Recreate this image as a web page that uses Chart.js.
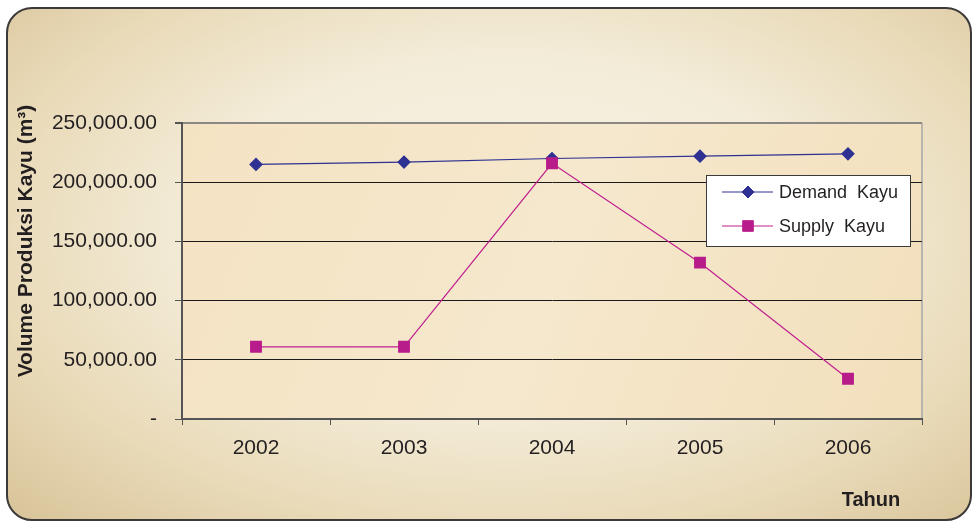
<!DOCTYPE html>
<html>
<head>
<meta charset="utf-8">
<script src="https://cdn.jsdelivr.net/npm/chart.js@4.4.0/dist/chart.umd.min.js"></script>
<style>
  html, body { margin: 0; padding: 0; background: #fff; }
  #frame {
    position: absolute; left: 6px; top: 7px; width: 962px; height: 510px;
    border: 2px solid #3c3a38; border-radius: 26px;
    background: radial-gradient(ellipse 72% 78% at 52% 44%, #f7f3e6 0%, #f3ecd8 45%, #e9dab8 75%, #d9c59b 100%);
  }
  #c { position: absolute; left: 0; top: 0; }
</style>
</head>
<body>
<div id="frame"></div>
<canvas id="c" width="974" height="522"></canvas>
<script>
// data
const years = ['2002', '2003', '2004', '2005', '2006'];
const demandKayu = [215000, 217000, 220000, 222000, 224000];
const supplyKayu = [61000, 61000, 216000, 132000, 34000];
const yTicks = [0, 50000, 100000, 150000, 200000, 250000];
const seriesNames = ['Demand  Kayu', 'Supply  Kayu'];
const yTitle = 'Volume Produksi Kayu (m\u00B3)';
const xTitle = 'Tahun';

const textColor = '#231f20';

function fmt(v) {
  if (v === 0) return '-';
  return v.toFixed(2).replace(/\B(?=(\d{3})+(?!\d))/g, ',');
}

// parchment fill behind the plot + light right border
const plotBg = {
  id: 'plotBg',
  beforeDraw(chart) {
    const { ctx, chartArea: a } = chart;
    ctx.save();
    const g = ctx.createLinearGradient(a.left, a.top, a.right, a.bottom);
    g.addColorStop(0, '#f4e3c3');
    g.addColorStop(0.5, '#f6e8cd');
    g.addColorStop(1, '#f2dfbb');
    ctx.fillStyle = g;
    ctx.fillRect(a.left, a.top, a.right - a.left, a.bottom - a.top);
    ctx.strokeStyle = '#b8b4ae';
    ctx.lineWidth = 2;
    ctx.beginPath();
    ctx.moveTo(a.right, a.top);
    ctx.lineTo(a.right, a.bottom);
    ctx.stroke();
    ctx.restore();
  }
};

// legend box inside the plot, and the two axis titles
const extras = {
  id: 'extras',
  afterDraw(chart) {
    const ctx = chart.ctx;
    ctx.save();
    // legend
    ctx.fillStyle = '#ffffff';
    ctx.fillRect(706, 175, 204, 71);
    ctx.strokeStyle = '#3a3a3a';
    ctx.lineWidth = 1;
    ctx.strokeRect(706.5, 175.5, 204, 71);
    const rows = [192, 226];
    chart.data.datasets.forEach((ds, i) => {
      const y = rows[i];
      ctx.strokeStyle = ds.borderColor;
      ctx.lineWidth = 1;
      ctx.beginPath();
      ctx.moveTo(722, y);
      ctx.lineTo(773, y);
      ctx.stroke();
      ctx.fillStyle = ds.pointBackgroundColor;
      ctx.strokeStyle = ds.pointBorderColor;
      Chart.helpers.drawPoint(ctx, {
        pointStyle: ds.pointStyle, radius: ds.pointRadius, rotation: 0, borderWidth: 1
      }, 748, y);
      ctx.fillStyle = textColor;
      ctx.font = '18px "Liberation Sans", Arial, sans-serif';
      ctx.textAlign = 'left';
      ctx.textBaseline = 'middle';
      ctx.fillText(ds.label, 779, y + 1);
    });
    // y title
    ctx.fillStyle = textColor;
    ctx.font = 'bold 21px "Liberation Sans", Arial, sans-serif';
    ctx.textAlign = 'center';
    ctx.textBaseline = 'middle';
    ctx.save();
    ctx.translate(26, 241);
    ctx.rotate(-Math.PI / 2);
    ctx.fillText(yTitle, 0, 0);
    ctx.restore();
    // x title
    ctx.font = 'bold 20px "Liberation Sans", Arial, sans-serif';
    ctx.fillText(xTitle, 871, 500);
    ctx.restore();
  }
};

new Chart(document.getElementById('c'), {
  type: 'line',
  data: {
    labels: years,
    datasets: [
      {
        label: seriesNames[0],
        data: demandKayu,
        borderColor: '#2e3192',
        backgroundColor: '#2e3192',
        pointBackgroundColor: '#2e3192',
        pointBorderColor: '#2e3192',
        pointStyle: 'rectRot',
        pointRadius: 6,
        borderWidth: 1.2,
        tension: 0,
        order: 1
      },
      {
        label: seriesNames[1],
        data: supplyKayu,
        borderColor: '#c0208f',
        backgroundColor: '#b81c8a',
        pointBackgroundColor: '#b81c8a',
        pointBorderColor: '#b81c8a',
        pointStyle: 'rect',
        pointRadius: 7.5,
        borderWidth: 1.2,
        tension: 0,
        order: 0
      }
    ]
  },
  options: {
    responsive: false,
    animation: false,
    layout: { padding: { left: 0, top: 123, right: 52, bottom: 0 } },
    plugins: { legend: { display: false }, tooltip: { enabled: false } },
    scales: {
      x: {
        offset: true,
        afterFit(scale) { scale.height = 103; },
        grid: {
          drawOnChartArea: false,
          drawTicks: true,
          tickLength: 6,
          color: '#555',
          offset: true
        },
        border: { color: '#555', width: 2 },
        ticks: {
          padding: 11,
          color: textColor,
          font: { family: '"Liberation Sans", Arial, sans-serif', size: 21 }
        }
      },
      y: {
        min: 0,
        max: 250000,
        afterFit(scale) { scale.width = 182; },
        afterBuildTicks(scale) { scale.ticks = yTicks.map(v => ({ value: v })); },
        grid: {
          color: ctx => ctx.tick && ctx.tick.value === 250000 ? '#8a8784' : '#1a1a1a',
          lineWidth: ctx => ctx.tick && ctx.tick.value === 250000 ? 2 : 1,
          tickColor: '#555',
          tickLength: 7
        },
        border: { color: '#555', width: 2 },
        ticks: {
          padding: 18,
          color: textColor,
          font: { family: '"Liberation Sans", Arial, sans-serif', size: 21 },
          callback: v => fmt(v)
        }
      }
    }
  },
  plugins: [plotBg, extras]
});
</script>
</body>
</html>
